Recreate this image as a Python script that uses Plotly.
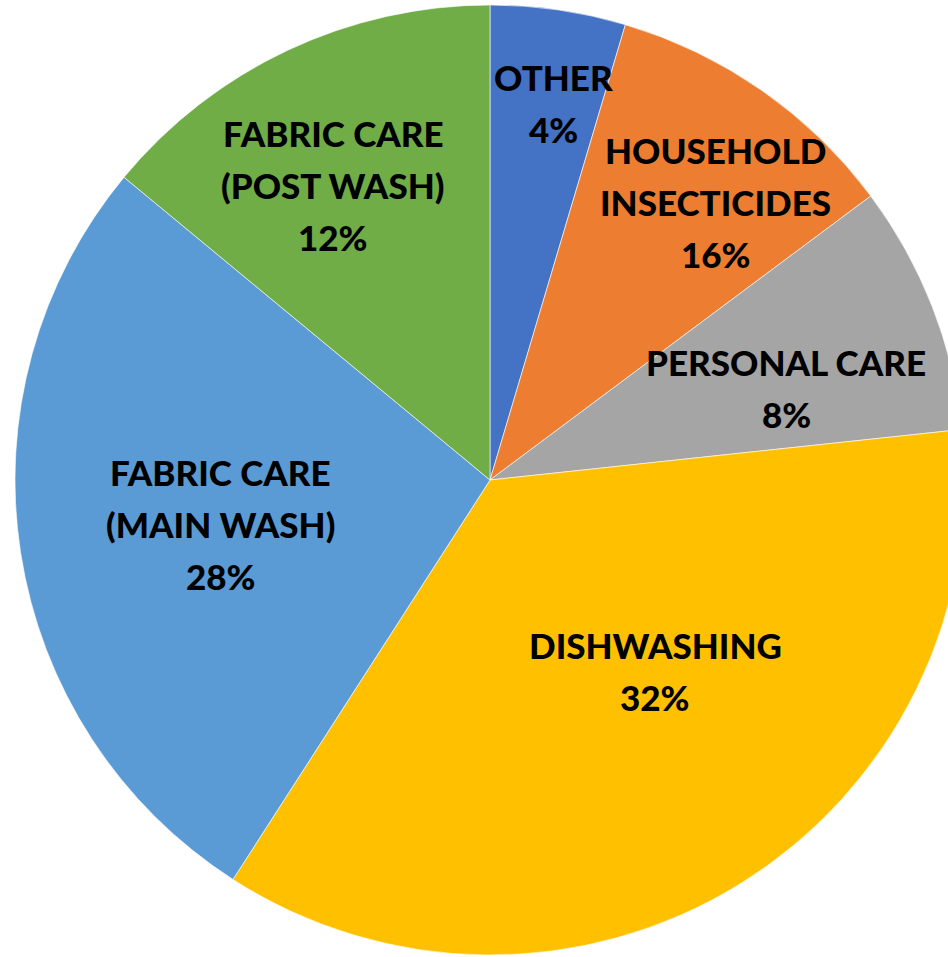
import math
import plotly.graph_objects as go

# ---- data ----
categories = ["OTHER", "HOUSEHOLD INSECTICIDES", "PERSONAL CARE", "DISHWASHING",
              "FABRIC CARE (MAIN WASH)", "FABRIC CARE (POST WASH)"]
values = [4.6, 10.2, 8.5, 35.8, 26.9, 14.0]          # slice sizes as drawn
label_pct = ["4%", "16%", "8%", "32%", "28%", "12%"]  # percentages as printed
label_lines = [["OTHER"], ["HOUSEHOLD", "INSECTICIDES"], ["PERSONAL CARE"], ["DISHWASHING"],
               ["FABRIC CARE", "(MAIN WASH)"], ["FABRIC CARE", "(POST WASH)"]]

# ---- style ----
colors = ["#4472C4", "#ED7D31", "#A5A5A5", "#FFC000", "#5B9BD5", "#70AD47"]
label_rfrac = [0.804, 0.754, 0.653, 0.531, 0.574, 0.704]
label_dtheta = [1.3, 4.2, 4.1, -9.2, -0.5, -2.8]

W, H = 980, 957
dom_y = [2 / H, 952 / H]
CX, CY = W / 2, H - (dom_y[0] + dom_y[1]) / 2 * H   # pixel centre (from top)
R = min(W, (dom_y[1] - dom_y[0]) * H) / 2
FONT = dict(family="Lato, 'Open Sans', sans-serif", size=35, color="#000000", weight=900)
LINE_H = 52

fig = go.Figure(go.Pie(
    labels=categories, values=values, sort=False, direction="clockwise", rotation=0,
    marker=dict(colors=colors, line=dict(color="#ffffff", width=0.6)),
    textinfo="none", hoverinfo="label+percent", showlegend=False,
    domain=dict(x=[0, 1], y=dom_y),
))

total = sum(values)
cum = 0.0
annotations = []
for i, v in enumerate(values):
    mid = (cum + v / 2) / total * 360.0
    cum += v
    ang = math.radians(mid + label_dtheta[i])
    r = label_rfrac[i] * R
    bx = CX + r * math.sin(ang)
    by = CY - r * math.cos(ang)
    lines = label_lines[i] + [label_pct[i]]
    n = len(lines)
    for j, t in enumerate(lines):
        py = by + (j - (n - 1) / 2) * LINE_H
        annotations.append(dict(
            x=bx / W, y=(H - py) / H, xref="paper", yref="paper",
            text=t, showarrow=False, font=FONT,
            xanchor="center", yanchor="middle"))

fig.update_layout(
    width=W, height=H, margin=dict(l=0, r=0, t=0, b=0),
    paper_bgcolor="#ffffff", plot_bgcolor="#ffffff",
    annotations=annotations,
)

fig.write_html("out.html", post_script="document.body.style.overflow='hidden';document.body.style.margin='0';document.documentElement.style.overflow='hidden';")
